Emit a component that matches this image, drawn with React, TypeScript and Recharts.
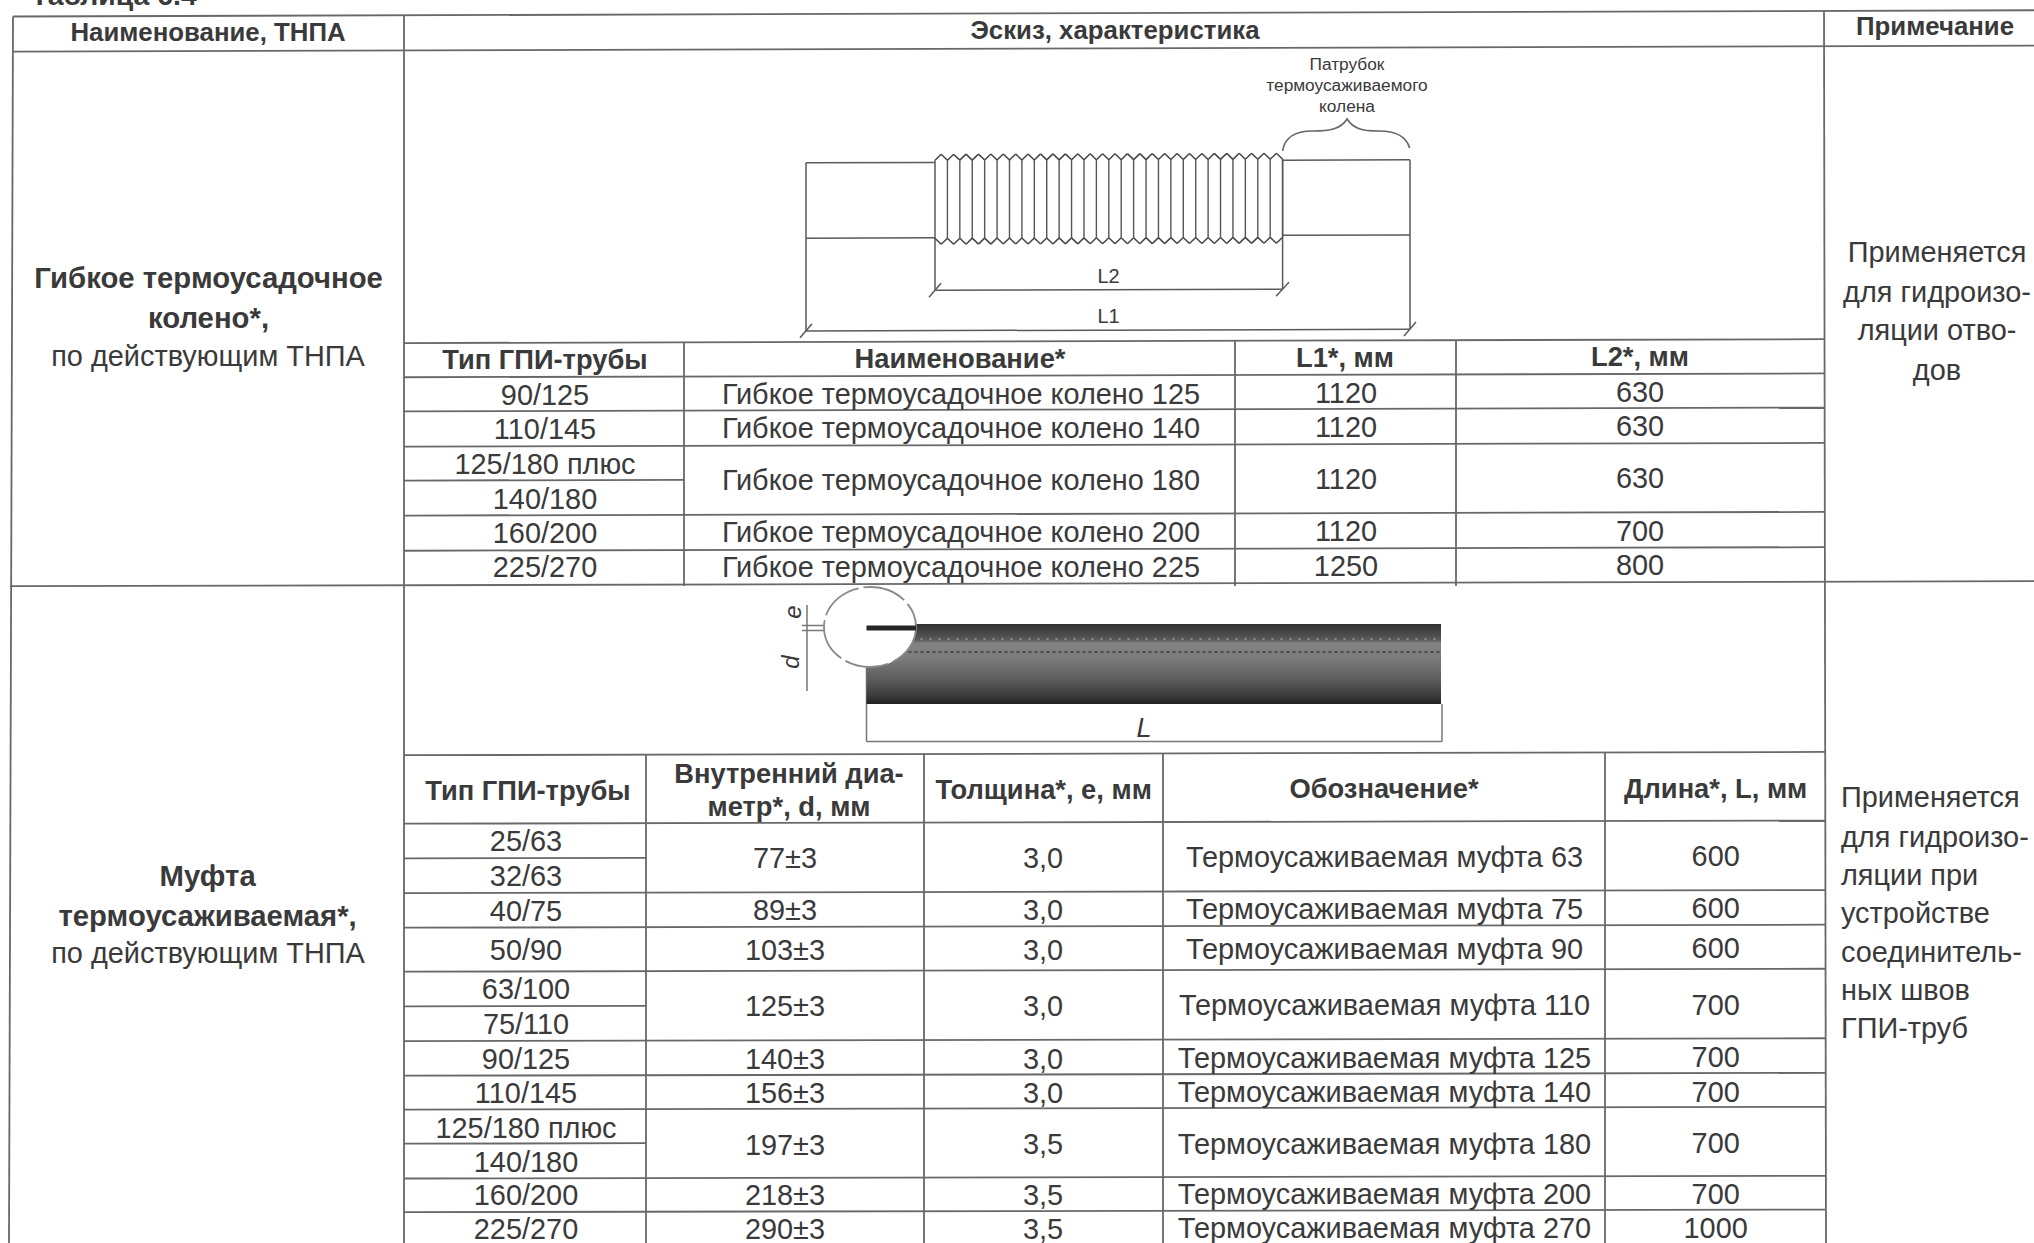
import React from 'react';
import { ScatterChart, Scatter, XAxis, YAxis, ReferenceLine } from 'recharts';

// ---------- table content ----------
const pageTitle = ['Таблица 6.4'];
const mainHeaders = ['Наименование, ТНПА', 'Эскиз, характеристика', 'Примечание'];
const section1Left = ['Гибкое термоусадочное', 'колено*,'];
const section2Left = ['Муфта', 'термоусаживаемая*,'];
const leftNote = 'по действующим ТНПА';
const section1Note = ['Применяется', 'для гидроизо-', 'ляции отво-', 'дов'];
const section2Note = ['Применяется', 'для гидроизо-', 'ляции при', 'устройстве', 'соединитель-', 'ных швов', 'ГПИ-труб'];
const sketchLabel = ['Патрубок', 'термоусаживаемого', 'колена'];
const dimensionLabels = ['L2', 'L1'];

const s1Headers = ['Тип ГПИ-трубы', 'Наименование*', 'L1*, мм', 'L2*, мм'];
const s1Types = ['90/125', '110/145', '125/180 плюс', '140/180', '160/200', '225/270'];
const s1Names = ['Гибкое термоусадочное колено 125', 'Гибкое термоусадочное колено 140', 'Гибкое термоусадочное колено 180', 'Гибкое термоусадочное колено 200', 'Гибкое термоусадочное колено 225'];
const s1L1 = ['1120', '1120', '1120', '1120', '1250'];
const s1L2 = ['630', '630', '630', '700', '800'];

const s2Headers = ['Тип ГПИ-трубы', 'Толщина*, е, мм', 'Обозначение*', 'Длина*, L, мм'];
const s2HeaderD = ['Внутренний диа-', 'метр*, d, мм'];
const s2Types = ['25/63', '32/63', '40/75', '50/90', '63/100', '75/110', '90/125', '110/145', '125/180 плюс', '140/180', '160/200', '225/270'];
const s2D = ['77±3', '89±3', '103±3', '125±3', '140±3', '156±3', '197±3', '218±3', '290±3'];
const s2T = ['3,0', '3,0', '3,0', '3,0', '3,0', '3,0', '3,5', '3,5', '3,5'];
const s2Names = ['Термоусаживаемая муфта 63', 'Термоусаживаемая муфта 75', 'Термоусаживаемая муфта 90', 'Термоусаживаемая муфта 110', 'Термоусаживаемая муфта 125', 'Термоусаживаемая муфта 140', 'Термоусаживаемая муфта 180', 'Термоусаживаемая муфта 200', 'Термоусаживаемая муфта 270'];
const s2Len = ['600', '600', '600', '700', '700', '700', '700', '700', '1000'];

// ---------- layout (page pixels; the scan leans slightly, see lean()) ----------
const W = 2034;
const H = 1243;
const lean = (x: number, y: number) => y - 1.5 - (0.0031 - (0.0013 * y) / H) * (x - 500);

const s1TypeRows = [396.5, 431, 465.8, 500.3, 534.8, 569];
const s1MergedRows = [396.4, 430.8, 482.5, 535, 569.3];
const s2TypeRows = [843, 877.6, 912.7, 952, 991, 1025.6, 1060.7, 1094.6, 1129.6, 1163.4, 1196.8, 1230.6];
const s2MergedRows = [860.4, 912.3, 952.2, 1008.5, 1061.3, 1095.4, 1147, 1197.4, 1231.4];

// horizontal rules: [x1, x2, y]
const hRules = [
  [13, W, 16.5], [13, W, 51.7], [10, W, 586.5],
  [404, 1824, 344.3], [404, 1824, 378.5], [404, 1824, 412.6], [404, 1824, 447.9], [404, 684, 481.8], [404, 1824, 516.8], [404, 1824, 552],
  [404, 1825, 756.5], [404, 1825, 825], [404, 646, 859.7], [404, 1825, 894.4], [404, 1825, 929], [404, 1825, 973], [404, 646, 1007.7],
  [404, 1825, 1042.4], [404, 1825, 1077], [404, 1825, 1110.9], [404, 646, 1145], [404, 1825, 1179.8], [404, 1825, 1213.5],
];
// vertical rules: [x1, y1, x2, y2]
const vRules = [
  [13, 16.5, 9, 1243], [404, 16.5, 404, 1243], [1824, 16.5, 1826, 1243],
  [684, 344, 684, 586], [1235, 344, 1235, 586], [1456, 344, 1456, 586],
  [646, 756, 646, 1243], [924, 756, 924, 1243], [1163, 756, 1163, 1243], [1605, 756, 1605, 1243],
];
// drawing lines of the first sketch: [x1, y1, x2, y2]
const sketch1 = [
  [806, 165.2, 935, 165.2], [806, 240.6, 935, 240.6], [806, 165.2, 806, 333.3],
  [1282.6, 164, 1410, 164], [1282.6, 239, 1410, 239], [1410, 164, 1410, 333.3],
  [935, 163, 935, 293], [1282.6, 163, 1282.6, 293],
  [935, 293, 1282.6, 293], [806, 333.3, 1410, 333.3],
  [929, 300, 941, 286], [1276, 300, 1289, 286], [800, 340, 812, 326], [1404, 340, 1416, 326],
];
const ridgeCount = 28;
const ridgeStart = 935;
const ridgeEnd = 1282.6;
const ridgeY = { topPeak: 157, topValley: 163, bottomValley: 241, bottomPeak: 247 };
// drawing lines of the second sketch (not leaned): [x1, y1, x2, y2]
const sketch2 = [
  [807, 605, 807, 691], [802, 625.5, 866, 625.5], [802, 630.5, 866, 630.5],
  [866.5, 630, 866.5, 741.5], [866.5, 741.5, 1442, 741.5], [1442, 704, 1442, 741.5],
];

const cells = (labels: string[], x: number, ys: number[]) =>
  labels.map((label, i) => ({ x, y: lean(x, ys[i]), label }));

const regularCells = [
  ...cells(s1Types, 545, s1TypeRows),
  ...cells(s1Names, 961, s1MergedRows),
  ...cells(s1L1, 1346, s1MergedRows),
  ...cells(s1L2, 1640, s1MergedRows),
  ...cells(s2Types, 526, s2TypeRows),
  ...cells(s2D, 785, s2MergedRows),
  ...cells(s2T, 1043, s2MergedRows),
  ...cells(s2Names, 1384.5, s2MergedRows),
  ...cells(s2Len, 1715.7, s2MergedRows),
  ...cells(section1Note, 1937, [257.4, 297.6, 335.8, 375.3]),
  ...cells([leftNote], 208, [356.6]),
  ...cells([leftNote], 208, [954]),
];
const leftCells = cells(section2Note, 1841, [802, 841, 879, 917, 956, 994, 1032]);
const mainHeadCells = [
  ...cells([mainHeaders[0]], 208, [33]),
  ...cells([mainHeaders[1]], 1115, [33.3]),
  ...cells([mainHeaders[2]], 1935, [31.8]),
];
const leftBoldCells = [
  ...cells(section1Left, 208.5, [278.6, 318.2]),
  ...cells(section2Left, 207.6, [876.6, 916.6]),
];
const subHeadCells = [
  ...cells([s1Headers[0]], 545, [361.5]),
  ...cells([s1Headers[1]], 960, [361.5]),
  ...cells([s1Headers[2]], 1345, [361.5]),
  ...cells([s1Headers[3]], 1640, [361.5]),
  ...cells([s2Headers[0]], 528, [792]),
  ...cells(s2HeaderD, 789, [776, 808.6]),
  ...cells([s2Headers[1]], 1043.7, [792.4]),
  ...cells([s2Headers[2]], 1384, [792.4]),
  ...cells([s2Headers[3]], 1715.7, [793]),
];
const smallCells = cells(sketchLabel, 1347, [68.3, 89, 110]);
const dimensionCells = cells(dimensionLabels, 1108.5, [278.8, 319]);

const FONT = '"Liberation Sans", Arial, sans-serif';
const INK = '#3a3a3a';
const RULE = '#686868';

const makeText = (size: number, weight: string, anchor: string) => (p: any) => (
  <text x={p.cx} y={p.cy} fontFamily={FONT} fontSize={size} fontWeight={weight} fill={INK}
    textAnchor={anchor} dominantBaseline="central">{p.payload.label}</text>
);
const TitleShape = (p: any) => (
  <text x={p.cx} y={p.cy} fontFamily={FONT} fontSize={28.4} fontWeight="bold" fill={INK}>{p.payload.label}</text>
);
const ItalicL = (p: any) => (
  <text x={p.cx} y={p.cy} fontFamily={FONT} fontSize={27} fontStyle="italic" fill={INK} textAnchor="middle" dominantBaseline="central">{p.payload.label}</text>
);
const RotatedMark = (p: any) => (
  <text x={p.cx} y={p.cy} fontFamily={FONT} fontSize={24} fontStyle="italic" fill={INK} textAnchor="middle" dominantBaseline="central"
    transform={`rotate(-90 ${p.cx} ${p.cy})`}>{p.payload.label}</text>
);
const TubeShape = (p: any) => (
  <g>
    <defs>
      <linearGradient id="tube" x1="0" y1="0" x2="0" y2="1">
        <stop offset="0" stopColor="#303030" />
        <stop offset="0.2" stopColor="#5a5a5a" />
        <stop offset="0.24" stopColor="#828282" />
        <stop offset="0.42" stopColor="#7c7c7c" />
        <stop offset="0.7" stopColor="#5c5c5c" />
        <stop offset="0.9" stopColor="#3a3a3a" />
        <stop offset="1" stopColor="#202020" />
      </linearGradient>
    </defs>
    <rect x={p.cx} y={p.cy} width={574.5} height={80} fill="url(#tube)" />
    <line x1={p.cx} x2={p.cx + 574.5} y1={p.cy + 15} y2={p.cy + 15} stroke="#8c8c8c" strokeWidth={2} strokeDasharray="2 7" />
    <line x1={p.cx} x2={p.cx + 574.5} y1={p.cy + 28} y2={p.cy + 28} stroke="#4c4c4c" strokeWidth={2} strokeDasharray="3 3" />
  </g>
);
const LensShape = (p: any) => (
  <g>
    <ellipse cx={p.cx} cy={p.cy} rx={46} ry={40} fill="#ffffff" stroke="#8a8a8a" strokeWidth={1.8} strokeDasharray="44 5" />
    <rect x={p.cx - 3.5} y={p.cy - 1.5} width={49.5} height={5} fill="#262626" />
  </g>
);
const BraceShape = (p: any) => (
  <path d={`M ${p.cx} ${p.cy} C ${p.cx + 2} ${p.cy - 14}, ${p.cx + 12} ${p.cy - 20}, ${p.cx + 30} ${p.cy - 20} C ${p.cx + 48} ${p.cy - 20}, ${p.cx + 58} ${p.cy - 22}, ${p.cx + 64.5} ${p.cy - 32} C ${p.cx + 71} ${p.cy - 22}, ${p.cx + 80} ${p.cy - 20}, ${p.cx + 96} ${p.cy - 20} C ${p.cx + 114} ${p.cy - 20}, ${p.cx + 124} ${p.cy - 14}, ${p.cx + 127} ${p.cy - 3}`}
    fill="none" stroke={RULE} strokeWidth={1.7} />
);

const segment = (k: string, x1: number, y1: number, x2: number, y2: number, width = 1.7, color = RULE) => (
  <ReferenceLine key={k} segment={[{ x: x1, y: y1 }, { x: x2, y: y2 }]} stroke={color} strokeWidth={width} ifOverflow="visible" />
);

const pitch = (ridgeEnd - ridgeStart) / ridgeCount;
const ridgeIndex = Array.from({ length: ridgeCount }, (_, i) => i);

export default function App() {
  return (
    <div style={{ position: 'absolute', left: 0, top: 0, width: W, height: H, overflow: 'hidden', background: '#fff' }}>
      <ScatterChart width={W} height={H} margin={{ top: 0, right: 0, bottom: 0, left: 0 }}>
        <XAxis type="number" dataKey="x" domain={[0, W]} hide />
        <YAxis type="number" dataKey="y" domain={[0, H]} reversed hide />

        <Scatter isAnimationActive={false} data={[{ x: 866.5, y: 624 }]} shape={TubeShape} />
        <Scatter isAnimationActive={false} data={[{ x: 870, y: 627 }]} shape={LensShape} />
        <Scatter isAnimationActive={false} data={[{ x: 1282.6, y: 151 }]} shape={BraceShape} />

        {hRules.map(([a, b, y], i) => segment(`h${i}`, a, lean(a, y), b, lean(b, y), 1.8))}
        {vRules.map(([a, y1, b, y2], i) => segment(`v${i}`, a, lean(a, y1), b, y2, 1.8))}
        {sketch1.map(([a, y1, b, y2], i) => segment(`s${i}`, a, lean(a, y1), b, lean(b, y2), 1.5, '#5a5a5a'))}
        {sketch2.map(([a, y1, b, y2], i) => segment(`t${i}`, a, y1, b, y2, 1.5, '#777777'))}
        {ridgeIndex.map((i) => {
          const l = ridgeStart + i * pitch;
          const m = l + pitch / 2;
          const r = l + pitch;
          return (
            <React.Fragment key={i}>
              {segment(`ra${i}`, l, lean(l, ridgeY.topValley), m, lean(m, ridgeY.topPeak), 1.5, '#444444')}
              {segment(`rb${i}`, m, lean(m, ridgeY.topPeak), r, lean(r, ridgeY.topValley), 1.5, '#444444')}
              {segment(`rc${i}`, l, lean(l, ridgeY.bottomValley), m, lean(m, ridgeY.bottomPeak), 1.5, '#444444')}
              {segment(`rd${i}`, m, lean(m, ridgeY.bottomPeak), r, lean(r, ridgeY.bottomValley), 1.5, '#444444')}
              {segment(`re${i}`, r, lean(r, ridgeY.topValley), r, lean(r, ridgeY.bottomValley), 1.4, '#555555')}
            </React.Fragment>
          );
        })}

        <Scatter isAnimationActive={false} data={regularCells} shape={makeText(28.9, 'normal', 'middle')} />
        <Scatter isAnimationActive={false} data={leftCells} shape={makeText(28.9, 'normal', 'start')} />
        <Scatter isAnimationActive={false} data={mainHeadCells} shape={makeText(25.8, 'bold', 'middle')} />
        <Scatter isAnimationActive={false} data={leftBoldCells} shape={makeText(29.3, 'bold', 'middle')} />
        <Scatter isAnimationActive={false} data={subHeadCells} shape={makeText(27.3, 'bold', 'middle')} />
        <Scatter isAnimationActive={false} data={smallCells} shape={makeText(17.3, 'normal', 'middle')} />
        <Scatter isAnimationActive={false} data={dimensionCells} shape={makeText(20, 'normal', 'middle')} />
        <Scatter isAnimationActive={false} data={[{ x: 31, y: 4.5, label: pageTitle[0] }]} shape={TitleShape} />
        <Scatter isAnimationActive={false} data={[{ x: 1144, y: 728, label: 'L' }]} shape={ItalicL} />
        <Scatter isAnimationActive={false} data={[{ x: 792, y: 612, label: 'e' }, { x: 790, y: 662, label: 'd' }]} shape={RotatedMark} />
      </ScatterChart>
    </div>
  );
}
